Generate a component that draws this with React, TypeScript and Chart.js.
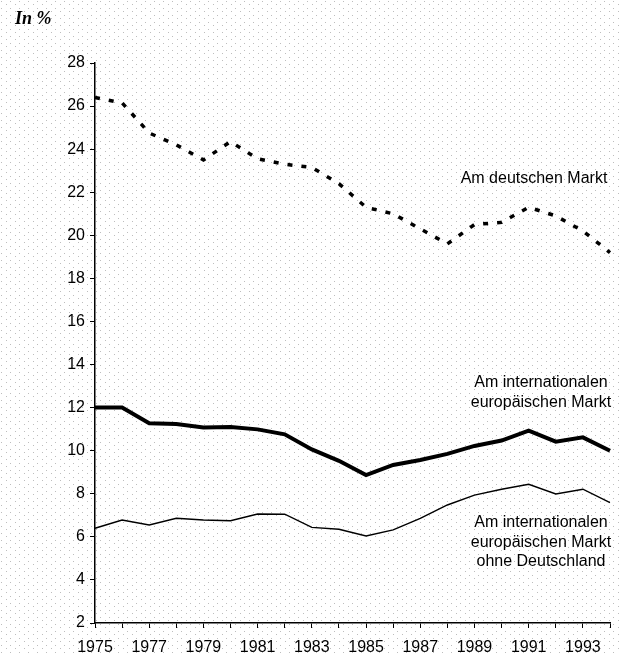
import React, { useEffect, useRef } from 'react';
import { Chart, registerables } from 'chart.js';

Chart.register(...registerables);

const years = ['1975', '1976', '1977', '1978', '1979', '1980', '1981', '1982', '1983', '1984', '1985', '1986', '1987', '1988', '1989', '1990', '1991', '1992', '1993', '1994'];

const deutscherMarkt = [26.4, 26.15, 24.75, 24.2, 23.5, 24.35, 23.55, 23.3, 23.15, 22.4, 21.3, 21.0, 20.3, 19.6, 20.5, 20.6, 21.3, 20.9, 20.2, 19.2];
const europaeischerMarkt = [12.0, 12.0, 11.27, 11.24, 11.08, 11.1, 10.99, 10.76, 10.06, 9.53, 8.87, 9.34, 9.57, 9.85, 10.22, 10.47, 10.93, 10.42, 10.62, 10.0];
const ohneDeutschland = [6.4, 6.78, 6.55, 6.86, 6.78, 6.75, 7.06, 7.05, 6.44, 6.35, 6.04, 6.32, 6.86, 7.48, 7.94, 8.21, 8.44, 7.99, 8.21, 7.59];

const yMin = 2;
const yMax = 28;
const yStep = 2;

const titleText = 'In %';
const label1 = ['Am deutschen Markt'];
const label2 = ['Am internationalen', 'europäischen Markt'];
const label3 = ['Am internationalen', 'europäischen Markt', 'ohne Deutschland'];

const FONT = "'Liberation Sans', Arial, Helvetica, sans-serif";

export default function App() {
  const ref = useRef<HTMLCanvasElement>(null);

  useEffect(() => {
    const canvas = ref.current;
    if (!canvas) return;

    const bgPlugin = {
      id: 'bg',
      beforeDraw(chart: any) {
        const ctx = chart.ctx;
        ctx.save();
        ctx.fillStyle = '#ffffff';
        ctx.fillRect(0, 0, chart.width, chart.height);
        const tile = document.createElement('canvas');
        tile.width = 9;
        tile.height = 7;
        const t = tile.getContext('2d');
        if (t) {
          t.fillStyle = '#bdbdbd';
          t.fillRect(1, 1, 1, 1);
          t.fillRect(6, 4, 1, 1);
          const pat = ctx.createPattern(tile, 'repeat');
          if (pat) {
            ctx.fillStyle = pat;
            ctx.fillRect(0, 0, chart.width, chart.height);
          }
        }
        ctx.restore();
      },
    };

    const textPlugin = {
      id: 'texts',
      afterDraw(chart: any) {
        const ctx = chart.ctx;
        ctx.save();
        ctx.fillStyle = '#000';
        ctx.font = `italic bold 18px 'Liberation Serif', 'Times New Roman', serif`;
        ctx.textAlign = 'left';
        ctx.textBaseline = 'middle';
        ctx.fillText(titleText, 15, 19);

        ctx.font = `16px ${FONT}`;
        ctx.textAlign = 'center';
        label1.forEach((s, i) => ctx.fillText(s, 534, 179 + i * 20));
        label2.forEach((s, i) => ctx.fillText(s, 541, 383 + i * 20));
        label3.forEach((s, i) => ctx.fillText(s, 541, 523 + i * 19.5));
        ctx.restore();
      },
    };

    const chart = new Chart(canvas, {
      type: 'line',
      data: {
        labels: years,
        datasets: [
          {
            label: 'Am deutschen Markt',
            data: deutscherMarkt,
            borderColor: '#000',
            borderWidth: 3.5,
            borderDash: [5, 9],
            borderCapStyle: 'butt',
            pointRadius: 0,
            tension: 0,
            fill: false,
          },
          {
            label: 'Am internationalen europäischen Markt',
            data: europaeischerMarkt,
            borderColor: '#000',
            borderWidth: 4,
            pointRadius: 0,
            tension: 0,
            fill: false,
          },
          {
            label: 'Am internationalen europäischen Markt ohne Deutschland',
            data: ohneDeutschland,
            borderColor: '#000',
            borderWidth: 1.4,
            pointRadius: 0,
            tension: 0,
            fill: false,
          },
        ],
      },
      options: {
        responsive: false,
        animation: false,
        maintainAspectRatio: false,
        layout: { padding: { top: 63, right: 11, left: 0, bottom: 0 } },
        plugins: {
          legend: { display: false },
          title: { display: false },
          tooltip: { enabled: false },
        },
        scales: {
          x: {
            type: 'category',
            offset: false,
            grid: {
              display: true,
              drawOnChartArea: false,
              drawTicks: true,
              tickLength: 5,
              color: '#000',
              lineWidth: 1,
            },
            border: { display: true, color: '#000', width: 1.5 },
            ticks: {
              autoSkip: false,
              maxRotation: 0,
              minRotation: 0,
              padding: 10,
              color: '#000',
              font: { family: FONT, size: 16 },
              callback: (_v: any, i: number) => (i % 2 === 0 ? years[i] : ''),
            },
            afterFit: (s: any) => {
              s.height = 32;
            },
          },
          y: {
            min: yMin,
            max: yMax,
            grid: {
              display: true,
              drawOnChartArea: false,
              drawTicks: true,
              tickLength: 5,
              color: '#000',
              lineWidth: 1,
            },
            border: { display: true, color: '#000', width: 1.5 },
            ticks: {
              stepSize: yStep,
              padding: 5,
              color: '#000',
              font: { family: FONT, size: 16 },
            },
            afterFit: (s: any) => {
              s.width = 95;
            },
          },
        },
      },
      plugins: [bgPlugin, textPlugin],
    } as any);

    return () => chart.destroy();
  }, []);

  return (
    <div style={{ position: 'fixed', left: 0, top: 0, width: 621, height: 655 }}>
      <canvas ref={ref} width={621} height={655} style={{ display: 'block' }} />
    </div>
  );
}
